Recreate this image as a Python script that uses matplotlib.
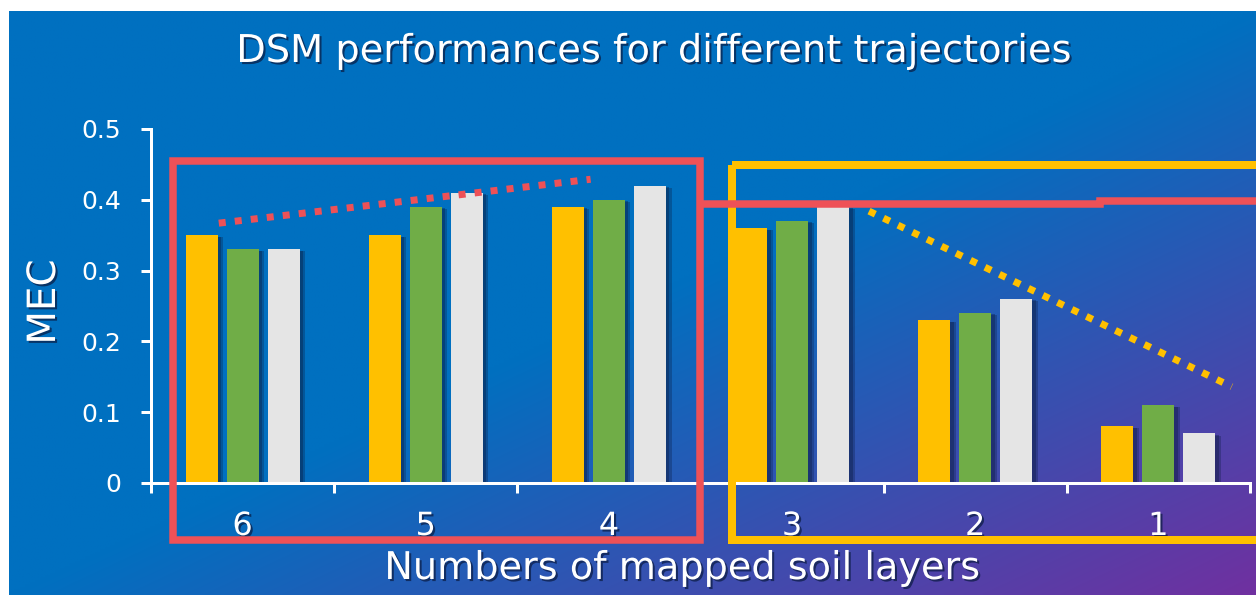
import numpy as np
import matplotlib
matplotlib.use("Agg")
import matplotlib.pyplot as plt
from matplotlib import patheffects as pe
from matplotlib.lines import Line2D
from matplotlib.patches import Rectangle

# ---- data -------------------------------------------------------------
layers = ["6", "5", "4", "3", "2", "1"]
mec_yellow = [0.35, 0.35, 0.39, 0.36, 0.23, 0.08]
mec_green = [0.33, 0.39, 0.40, 0.37, 0.24, 0.11]
mec_grey = [0.33, 0.41, 0.42, 0.39, 0.26, 0.07]
y_ticks = [0, 0.1, 0.2, 0.3, 0.4, 0.5]
y_tick_labels = ["0", "0.1", "0.2", "0.3", "0.4", "0.5"]
# dotted trend guides (category position, MEC)
rise_x = [-0.13, 1.9]
rise_y = [0.367, 0.429]
fall_x = [3.42, 5.4]
fall_y = [0.384, 0.136]

# ---- figure -----------------------------------------------------------
W, H = 1256, 595
fig = plt.figure(figsize=(W / 100, H / 100), dpi=100)
fig.patch.set_facecolor("white")

# diagonal blue -> purple background panel
bg = fig.add_axes([9 / W, 0, 1 - 9 / W, 1 - 11 / H])
bg.set_axis_off()
xx, yy = np.meshgrid(np.linspace(0, 1, 500), np.linspace(0, 1, 250))
t = np.clip(((xx + yy) / 2 - 0.5) / 0.5, 0, 1)
c0 = np.array([0, 112, 192]) / 255
c1 = np.array([112, 48, 160]) / 255
bg.imshow(c0 + (c1 - c0) * t[..., None], aspect="auto", interpolation="bilinear")

RED = "#EE5157"
YELLOW = "#FFC000"
GREEN = "#70AD47"
GREY = "#E5E5E5"
px = 0.72  # points per pixel at 100 dpi

ax = fig.add_axes([151 / W, 1 - 483 / H, (1250 - 151) / W, (483 - 129) / H])
ax.patch.set_alpha(0)

x = np.arange(len(layers))
bw, step = 0.175, 0.224
bar_fx = [pe.SimplePatchShadow(offset=(4, -1.5), shadow_rgbFace="#0a1a40", alpha=0.3),
          pe.SimplePatchShadow(offset=(2.5, -1), shadow_rgbFace="#0a1a40", alpha=0.35),
          pe.Normal()]
for off, vals, col in ((-step, mec_yellow, YELLOW), (0, mec_green, GREEN), (step, mec_grey, GREY)):
    for b in ax.bar(x + off, vals, bw, color=col, linewidth=0, zorder=3):
        b.set_path_effects(bar_fx)

dot_style = dict(linestyle=(0, (1.0, 1.3)), linewidth=7 * px,
                 dash_capstyle="butt", clip_on=False, zorder=4)
ax.plot(rise_x, rise_y, color=RED, **dot_style)
ax.plot(fall_x, fall_y, color=YELLOW, **dot_style)

ax.set_xlim(-0.5, len(layers) - 0.5)
ax.set_ylim(0, 0.5)
for s in ("top", "right"):
    ax.spines[s].set_visible(False)
for s in ("left", "bottom"):
    ax.spines[s].set_color("white")
    ax.spines[s].set_linewidth(3 * px)
    ax.spines[s].set_zorder(5)

ax.set_yticks(y_ticks, y_tick_labels)
ax.tick_params(axis="y", direction="out", length=10 * px, width=3 * px, color="white",
               labelcolor="white", labelsize=18, pad=20 * px)
ax.set_xticks(np.arange(len(layers) + 1) - 0.5)
ax.set_xticklabels([])
ax.set_xticks(x, layers, minor=True)
ax.tick_params(axis="x", which="major", direction="out", length=10 * px, width=3 * px,
               color="white")
ax.tick_params(axis="x", which="minor", length=0, pad=28 * px, labelsize=23,
               labelcolor="white")

txt_fx = [pe.SimplePatchShadow(offset=(1.5, -1.5), shadow_rgbFace="#0a1a40", alpha=0.7),
          pe.Normal()]
for lab in ax.get_xticklabels(minor=True):
    lab.set_path_effects(txt_fx)

fig.text(655 / W, 1 - 62 / H, "DSM performances for different trajectories",
         ha="center", va="baseline", color="white", fontsize=27.6, path_effects=txt_fx)
fig.text(683 / W, 1 - 579 / H, "Numbers of mapped soil layers",
         ha="center", va="baseline", color="white", fontsize=27.5, path_effects=txt_fx)
fig.text(44 / W, 1 - 302 / H, "MEC", rotation=90, ha="center", va="center",
         color="white", fontsize=28, path_effects=txt_fx)

# ---- grouping frames, in pixel coordinates ----------------------------
ov = fig.add_axes([0, 0, 1, 1], zorder=10)
ov.set_xlim(0, W)
ov.set_ylim(H, 0)
ov.set_axis_off()
ov.patch.set_alpha(0)
ov.add_patch(Rectangle((172.5, 161), 700 - 172.5, 539.5 - 161, fill=False,
                       edgecolor=RED, linewidth=7.5 * px, joinstyle="miter"))
ov.add_patch(Rectangle((732, 165), 1400 - 732, 539.5 - 165, fill=False,
                       edgecolor=YELLOW, linewidth=8 * px, joinstyle="miter"))
ov.add_line(Line2D([704, 1100, 1100, 1300], [204, 204, 201, 201], color=RED,
                   linewidth=7.5 * px, solid_joinstyle="miter"))

fig.savefig("out.png", dpi=100, facecolor=fig.get_facecolor())
